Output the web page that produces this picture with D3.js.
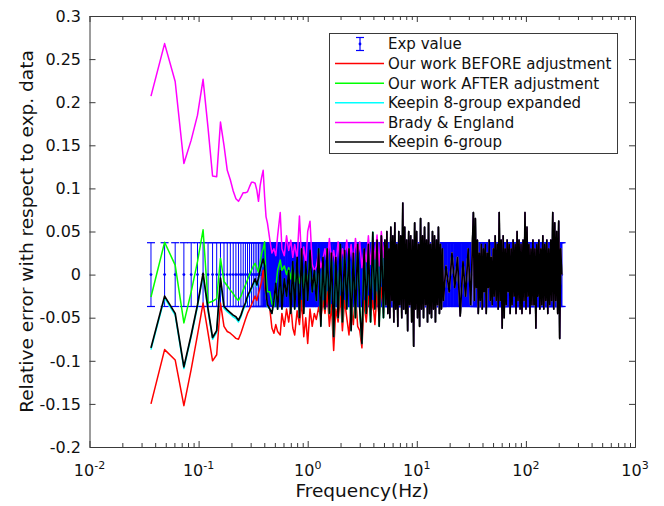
<!DOCTYPE html>
<html>
<head>
<meta charset="utf-8">
<script src="https://cdn.jsdelivr.net/npm/d3@7/dist/d3.min.js"></script>
<style>
  body { margin: 0; background: #fff; }
  svg { display: block; font-family: "DejaVu Sans", sans-serif; }
</style>
</head>
<body>
<div id="chart"></div>
<script>
// frequencies (Hz): evenly spaced experimental points below 0.43 Hz, then sampled above
var lowFreq = [0.0366, 0.0488, 0.0610, 0.0733, 0.0855, 0.0977, 0.1099, 0.1221, 0.1343, 0.1465,
  0.1587, 0.1709, 0.1831, 0.1953, 0.2076, 0.2198, 0.2320, 0.2442, 0.2564, 0.2686,
  0.2808, 0.2930, 0.3052, 0.3174, 0.3296, 0.3418, 0.3540, 0.3662, 0.3784, 0.3906,
  0.4029, 0.4151, 0.4273];
var midFreq = [0.45, 0.47, 0.49, 0.51, 0.53, 0.56, 0.58, 0.61, 0.64, 0.67,
  0.70, 0.73, 0.76, 0.80, 0.84, 0.88, 0.92, 0.96, 1.00, 1.05,
  1.10, 1.15, 1.20, 1.26, 1.32, 1.38, 1.44, 1.51, 1.58, 1.65,
  1.73, 1.81, 1.90, 1.99, 2.08, 2.18, 2.28, 2.39, 2.50, 2.62,
  2.74, 2.87, 3.00, 3.14, 3.29, 3.44, 3.60, 3.77, 3.95, 4.13,
  4.32, 4.52, 4.73, 4.95];
var highFreq = [5.10, 5.21, 5.32, 5.43, 5.55, 5.66, 5.78, 5.91, 6.03, 6.16,
  6.29, 6.42, 6.56, 6.70, 6.84, 6.98, 7.13, 7.28, 7.44, 7.59,
  7.75, 7.92, 8.08, 8.25, 8.43, 8.61, 8.79, 8.98, 9.17, 9.36,
  9.56, 9.76, 9.96, 10.17, 10.39, 10.61, 10.83, 11.06, 11.30, 11.53,
  11.78, 12.03, 12.28, 12.54, 12.81, 13.08, 13.35, 13.64, 13.92, 14.22,
  14.52, 14.82, 15.14, 15.46, 15.78, 16.12, 16.46, 16.80, 17.16, 17.52,
  18.5, 19.8, 21.0, 22.3, 23.6, 25.0, 26.5, 28.0, 29.6, 31.2,
  33.0, 33.7, 34.4, 35.1, 35.9, 36.6, 37.4, 38.2, 39.0, 39.8,
  40.7, 41.5, 42.4, 43.3, 44.2, 45.2, 46.1, 47.1, 48.1, 49.1,
  50.2, 51.2, 52.3, 53.4, 54.6, 55.7, 56.9, 58.1, 59.3, 60.6,
  61.9, 63.2, 64.5, 65.9, 67.3, 68.7, 70.2, 71.7, 73.2, 74.7,
  76.3, 77.9, 79.6, 81.2, 83.0, 84.7, 86.5, 88.4, 90.2, 92.1,
  94.1, 96.1, 98.1, 100.2, 102.3, 104.5, 106.7, 109.0, 111.3, 113.6,
  116.0, 118.5, 121.0, 123.5, 126.1, 128.8, 131.5, 134.3, 137.2, 140.1,
  143.0, 146.0, 149.1, 152.3, 155.5, 158.8, 162.1, 165.6, 169.1, 172.6,
  176.3, 180.0, 183.8, 187.7, 191.7, 195.7, 199.9, 204.1, 208.4, 212.8];

// experimental value and its relative uncertainty
var expValue = 0;
var expError = 0.037;

// relative errors, low-frequency part (one value per lowFreq)
var redLow = [-0.150, -0.087, -0.099, -0.152, -0.110, -0.070, -0.033, -0.068, -0.100, -0.093,
  -0.033, -0.060, -0.066, -0.068, -0.071, -0.074, -0.075, -0.068, -0.060, -0.052,
  -0.045, -0.040, -0.035, -0.030, -0.025, -0.030, -0.022, -0.015, -0.008, 0.005,
  -0.010, -0.025, -0.035];
var greenLow = [-0.026, 0.0375, 0.011, -0.056, -0.020, 0.015, 0.052, -0.033, -0.031, -0.028,
  0.019, -0.008, -0.013, -0.018, -0.022, -0.027, -0.030, -0.025, -0.018, -0.012,
  -0.006, 0.000, 0.005, 0.010, 0.013, 0.008, 0.003, 0.015, 0.025, 0.030,
  0.038, 0.000, -0.020];
var cyanLow = [-0.087, -0.027, -0.047, -0.109, -0.072, -0.037, -0.0005, -0.042, -0.075, -0.067,
  -0.006, -0.039, -0.043, -0.046, -0.049, -0.051, -0.055, -0.049, -0.041, -0.035,
  -0.027, -0.022, -0.017, -0.012, -0.007, -0.014, -0.006, 0.003, 0.010, 0.016,
  0.008, -0.022, -0.037];
var magentaLow = [0.207, 0.268, 0.224, 0.129, 0.156, 0.185, 0.2265, 0.170, 0.1144, 0.1136,
  0.177, 0.150, 0.121, 0.110, 0.097, 0.088, 0.085, 0.090, 0.095, 0.095,
  0.096, 0.102, 0.107, 0.107, 0.106, 0.098, 0.085, 0.103, 0.113, 0.121,
  0.090, 0.067, 0.060];
var blackLow = [-0.085, -0.025, -0.045, -0.107, -0.070, -0.035, 0.0015, -0.040, -0.073, -0.065,
  -0.004, -0.037, -0.041, -0.044, -0.047, -0.049, -0.053, -0.047, -0.039, -0.033,
  -0.025, -0.020, -0.015, -0.010, -0.005, -0.012, -0.004, 0.005, 0.012, 0.018,
  0.010, -0.020, -0.035];

// relative errors, 0.45 - 5 Hz (one value per midFreq)
var redMid = [-0.040, -0.062, -0.068, -0.058, -0.066, -0.070, -0.045, -0.060, -0.040, -0.055,
  -0.035, -0.062, -0.070, -0.042, -0.058, -0.030, -0.072, -0.050, -0.080, -0.040,
  -0.060, -0.045, -0.052, -0.038, -0.050, -0.030, -0.045, -0.020, -0.060, -0.035,
  -0.088, -0.040, -0.055, -0.025, -0.065, -0.030, -0.050, -0.070, -0.035, -0.058,
  -0.020, -0.060, -0.065, -0.085, -0.030, -0.055, -0.025, -0.048, -0.030, -0.058,
  -0.020, -0.050, -0.015, -0.045];
var greenMid = [-0.020, -0.034, -0.037, -0.015, 0.005, 0.017, 0.005, 0.010, 0.000, 0.008,
  -0.005, 0.012, -0.008, 0.004, -0.010, 0.010, -0.015, 0.005, -0.012, 0.020,
  -0.020, 0.005, -0.030, 0.030, -0.058, 0.020, -0.040, 0.030, -0.045, 0.025,
  -0.070, 0.020, -0.050, 0.035, -0.055, 0.028, -0.040, 0.030, -0.063, 0.025,
  -0.050, 0.035, -0.040, -0.078, 0.030, -0.045, 0.035, -0.055, 0.049, -0.040,
  0.040, -0.060, 0.045, -0.050];
var magentaMid = [0.040, 0.025, 0.030, 0.022, 0.045, 0.072, 0.030, 0.022, 0.045, 0.028,
  0.040, 0.020, 0.035, 0.018, 0.068, 0.015, 0.032, 0.010, 0.050, 0.062,
  0.012, 0.004, 0.010, 0.025, 0.008, 0.018, 0.030, 0.012, 0.042, 0.015,
  0.028, 0.010, 0.038, 0.012, 0.030, 0.018, 0.040, 0.015, 0.035, 0.010,
  0.042, 0.020, 0.038, 0.008, 0.030, 0.015, 0.045, 0.012, 0.040, 0.018,
  0.046, 0.010, 0.050, 0.020];
var blackMid = [-0.040, -0.045, -0.030, -0.010, -0.040, 0.005, -0.040, -0.005, -0.025, 0.005,
  -0.045, 0.015, -0.040, 0.020, -0.050, 0.030, -0.045, 0.015, -0.030, 0.028,
  -0.020, 0.005, -0.030, 0.030, -0.060, 0.020, -0.040, 0.030, -0.045, 0.025,
  -0.072, 0.020, -0.050, 0.035, -0.055, 0.028, -0.040, 0.030, -0.065, 0.025,
  -0.050, 0.035, -0.040, -0.080, 0.030, -0.045, 0.035, -0.055, 0.049, -0.040,
  0.040, -0.060, 0.045, -0.050];

// above 5 Hz every model lies on top of the others (one value per highFreq)
var allHigh = [0.040, -0.035, 0.050, -0.045, 0.030, -0.050, 0.055, -0.030, 0.045, -0.055,
  0.060, -0.040, 0.035, -0.060, 0.050, -0.035, 0.045, -0.050, 0.083, -0.040,
  0.055, -0.045, 0.040, -0.065, 0.050, -0.035, 0.045, -0.055, 0.040, -0.083,
  0.060, -0.040, 0.050, -0.050, 0.035, -0.060, 0.065, -0.040, 0.045, -0.050,
  0.055, -0.035, 0.040, -0.055, 0.060, -0.045, 0.035, -0.050, 0.050, -0.040,
  0.045, -0.055, 0.040, -0.035, 0.055, -0.045, 0.035, -0.040, 0.030, -0.030,
  0.010, -0.020, 0.025, -0.015, 0.020, -0.048, 0.015, -0.025, 0.030, -0.035,
  0.072, -0.030, 0.065, -0.015, 0.040, -0.045, 0.025, -0.030, 0.035, -0.040,
  0.030, -0.020, 0.035, -0.045, 0.025, -0.015, 0.040, -0.030, 0.020, -0.035,
  0.030, -0.025, 0.045, -0.030, 0.035, -0.040, 0.072, -0.030, 0.040, -0.062,
  0.045, -0.050, 0.030, -0.035, 0.040, -0.020, 0.035, -0.045, 0.030, -0.035,
  0.040, -0.025, 0.035, -0.045, 0.050, -0.030, 0.040, -0.040, 0.035, -0.045,
  0.040, -0.030, 0.072, -0.040, 0.055, -0.025, 0.035, -0.045, 0.030, -0.035,
  0.040, -0.035, 0.030, -0.062, 0.035, -0.025, 0.040, -0.040, 0.030, -0.035,
  0.045, -0.040, 0.035, -0.030, 0.040, -0.045, 0.030, -0.035, 0.040, -0.030,
  0.072, -0.040, 0.060, -0.030, 0.050, -0.045, 0.062, -0.074, 0.030, 0.000];

var seriesNames = ['Our work BEFORE adjustment', 'Our work AFTER adjustment',
  'Keepin 8-group expanded', 'Brady & England', 'Keepin 6-group'];
var seriesColors = ['#ff0000', '#00ff00', '#00ffff', '#ff00ff', '#000000'];
var seriesWidths = [1.5, 1.5, 1.5, 1.5, 1.7];

// axis ticks
var yTicks = [-0.2, -0.15, -0.1, -0.05, 0, 0.05, 0.1, 0.15, 0.2, 0.25, 0.3];
var yTickLabels = ['-0.2', '-0.15', '-0.1', '-0.05', '0', '0.05', '0.1', '0.15', '0.2', '0.25', '0.3'];
var xTicks = [0.01, 0.1, 1, 10, 100, 1000];
var xTickExps = ['-2', '-1', '0', '1', '2', '3'];

// build the table of points for each line
var freq = lowFreq.concat(midFreq, highFreq);
var seriesValues = [
  redLow.concat(redMid, allHigh),
  greenLow.concat(greenMid, allHigh),
  cyanLow.concat(blackMid, allHigh),
  magentaLow.concat(magentaMid, allHigh),
  blackLow.concat(blackMid, allHigh)
];

var width = 664, height = 506;
// plot box (note: window.top is read-only, so no plain "top" here)
var plotL = 89.5, plotR = 635, plotT = 16, plotB = 447;
var axisColor = '#3a3a3a';

var svg = d3.select('#chart').append('svg')
  .attr('width', width)
  .attr('height', height);

var x = d3.scaleLog().domain([0.01, 1000]).range([plotL, plotR]);
var y = d3.scaleLinear().domain([-0.2, 0.3]).range([plotB, plotT]);

// experimental error bars (dense ones run together into a band)
var bars = svg.append('g').attr('class', 'errorbars');
freq.forEach(function(f, i) {
  var gap = i < freq.length - 1 ? x(freq[i + 1]) - x(f) : x(f) - x(freq[i - 1]);
  var w = i >= lowFreq.length - 4 ? Math.max(1, gap + 0.6) : 1;
  bars.append('line')
    .attr('x1', x(f)).attr('x2', x(f))
    .attr('y1', y(expValue + expError)).attr('y2', y(expValue - expError))
    .attr('stroke', '#0000ff').attr('stroke-width', w);
  [expError, -expError].forEach(function(e) {
    bars.append('line')
      .attr('x1', x(f) - 4).attr('x2', x(f) + 4)
      .attr('y1', y(expValue + e)).attr('y2', y(expValue + e))
      .attr('stroke', '#0000ff').attr('stroke-width', 1.2);
  });
  bars.append('circle')
    .attr('cx', x(f)).attr('cy', y(expValue)).attr('r', 1.4)
    .attr('fill', '#0000ff');
});

// model lines
var line = d3.line()
  .x(function(d) { return x(d[0]); })
  .y(function(d) { return y(d[1]); });

seriesValues.forEach(function(vals, s) {
  svg.append('path')
    .datum(freq.map(function(f, i) { return [f, vals[i]]; }))
    .attr('d', line)
    .attr('fill', 'none')
    .attr('stroke', seriesColors[s])
    .attr('stroke-width', seriesWidths[s])
    .attr('stroke-linejoin', 'round');
});

// minor ticks for the log axis
var xMinor = [];
[0.01, 0.1, 1, 10, 100].forEach(function(d) {
  for (var m = 2; m <= 9; m++) xMinor.push(d * m);
});

// axes, ticks pointing inward on all four sides
function styleAxis(g) {
  g.selectAll('path, line').attr('stroke', axisColor);
  g.selectAll('text').remove();
}
svg.append('g').attr('transform', 'translate(0,' + plotB + ')')
  .call(d3.axisBottom(x).tickValues(xTicks).tickSizeInner(-6).tickSizeOuter(0)).call(styleAxis);
svg.append('g').attr('transform', 'translate(0,' + plotB + ')')
  .call(d3.axisBottom(x).tickValues(xMinor).tickSizeInner(-4).tickSizeOuter(0)).call(styleAxis);
svg.append('g').attr('transform', 'translate(0,' + plotT + ')')
  .call(d3.axisTop(x).tickValues(xTicks).tickSizeInner(-6).tickSizeOuter(0)).call(styleAxis);
svg.append('g').attr('transform', 'translate(0,' + plotT + ')')
  .call(d3.axisTop(x).tickValues(xMinor).tickSizeInner(-4).tickSizeOuter(0)).call(styleAxis);
svg.append('g').attr('transform', 'translate(' + plotL + ',0)')
  .call(d3.axisLeft(y).tickValues(yTicks).tickSizeInner(-6).tickSizeOuter(0)).call(styleAxis);
svg.append('g').attr('transform', 'translate(' + plotR + ',0)')
  .call(d3.axisRight(y).tickValues(yTicks).tickSizeInner(-6).tickSizeOuter(0)).call(styleAxis);

// tick labels
svg.selectAll('.ylab').data(yTicks).enter().append('text')
  .attr('x', plotL - 8.5)
  .attr('y', function(d) { return y(d); })
  .attr('dy', '0.36em')
  .attr('text-anchor', 'end')
  .attr('font-size', 16)
  .attr('fill', '#111')
  .text(function(d, i) { return yTickLabels[i]; });

var xlab = svg.selectAll('.xlab').data(xTicks).enter().append('text')
  .attr('x', function(d) { return x(d); })
  .attr('y', 476)
  .attr('text-anchor', 'middle')
  .attr('font-size', 16)
  .attr('fill', '#111');
xlab.append('tspan').text('10');
xlab.append('tspan')
  .attr('dy', -7)
  .attr('font-size', 11)
  .text(function(d, i) { return xTickExps[i]; });

// axis titles
svg.append('text')
  .attr('x', (plotL + plotR) / 2)
  .attr('y', 497)
  .attr('text-anchor', 'middle')
  .attr('font-size', 18.5)
  .attr('fill', '#111')
  .text('Frequency(Hz)');

svg.append('text')
  .attr('transform', 'translate(33,' + ((plotT + plotB) / 2) + ') rotate(-90)')
  .attr('text-anchor', 'middle')
  .attr('font-size', 18.5)
  .attr('fill', '#111')
  .text('Relative error with respect to exp. data');

// legend
var legend = svg.append('g').attr('class', 'legend');
legend.append('rect')
  .attr('x', 329.5).attr('y', 33.5)
  .attr('width', 288).attr('height', 120)
  .attr('fill', '#fff')
  .attr('stroke', axisColor);

var rowY = function(i) { return 44 + i * 19.6; };

// errorbar symbol
legend.append('line')
  .attr('x1', 360).attr('x2', 360).attr('y1', rowY(0) - 6.5).attr('y2', rowY(0) + 6.5)
  .attr('stroke', '#0000ff').attr('stroke-width', 1.2);
[-6.5, 6.5].forEach(function(o) {
  legend.append('line')
    .attr('x1', 356).attr('x2', 364).attr('y1', rowY(0) + o).attr('y2', rowY(0) + o)
    .attr('stroke', '#0000ff').attr('stroke-width', 1.2);
});
legend.append('circle').attr('cx', 360).attr('cy', rowY(0)).attr('r', 1.4).attr('fill', '#0000ff');

var labels = ['Exp value'].concat(seriesNames);
labels.forEach(function(name, i) {
  if (i > 0) {
    legend.append('line')
      .attr('x1', 335).attr('x2', 384)
      .attr('y1', rowY(i)).attr('y2', rowY(i))
      .attr('stroke', seriesColors[i - 1]).attr('stroke-width', 1.5);
  }
  legend.append('text')
    .attr('x', 388)
    .attr('y', rowY(i))
    .attr('dy', '0.36em')
    .attr('font-size', 15)
    .attr('fill', '#111')
    .text(name);
});
</script>
</body>
</html>
